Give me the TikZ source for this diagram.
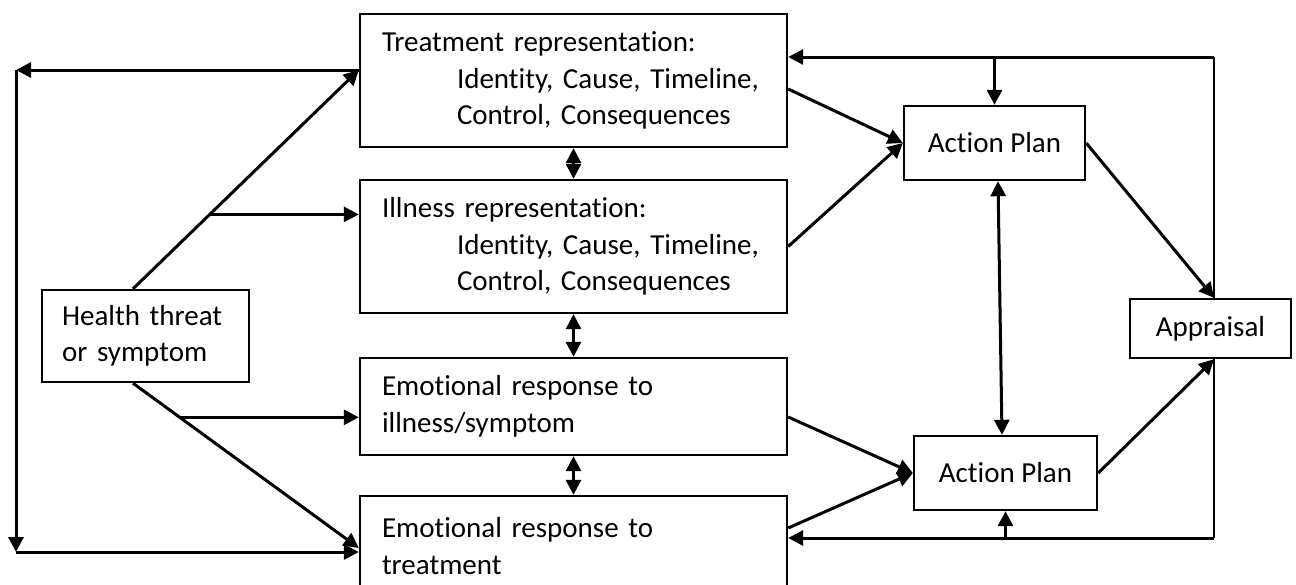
\documentclass[tikz,border=0pt]{standalone}
\usepackage{fontspec}
\setmainfont{Carlito}[Ligatures=NoCommon]
\usetikzlibrary{arrows.meta,calc}

\begin{document}
\begin{tikzpicture}[x=0.5pt, y=-0.5pt,
    every node/.style={font=\fontsize{14.5}{18.25}\selectfont},
    repbox/.style={draw, line width=1.2pt, inner xsep=11pt, inner ysep=0pt,
                   text width=191.5pt, align=left},
    smallbox/.style={draw, line width=1.2pt, inner sep=0pt, align=center},
    arr/.style={-{Triangle[length=7.5pt,width=7.5pt]}, line width=1.5pt},
    both/.style={{Triangle[length=7.5pt,width=7.5pt]}-{Triangle[length=7.5pt,width=7.5pt]},
                 line width=1.5pt},
    fback/.style={line width=1pt},
  ]
    \path[use as bounding box, clip] (0,0) rectangle (1296,584);

    % boxes
    \node[repbox, minimum height=66.5pt] (treat) at (573.5,80.5)
      {Treatment representation:\\\hspace*{37.5pt}Identity, Cause, Timeline,\\\hspace*{37.5pt}Control, Consequences};
    \node[repbox, minimum height=66.5pt] (ill) at (573.5,246.5)
      {Illness representation:\\\hspace*{37.5pt}Identity, Cause, Timeline,\\\hspace*{37.5pt}Control, Consequences};
    \node[repbox, minimum height=48.5pt] (emoill) at (573.5,406.5)
      {Emotional response to\\illness/symptom};
    \node[repbox, minimum height=50pt] (emotreat) at (573.5,546)
      {Emotional response to\\treatment};
    \node[draw, line width=1.2pt, inner xsep=10pt, inner ysep=0pt, text width=83.5pt,
          align=left, minimum height=46pt] (health) at (145.5,336)
      {Health threat\\or symptom};
    \node[smallbox, minimum width=90.5pt, minimum height=37pt] (ap1) at (994.5,143) {Action Plan};
    \node[smallbox, minimum width=91.5pt, minimum height=37pt] (ap2) at (1005.5,473) {Action Plan};
    \node[smallbox, minimum width=80.5pt, minimum height=29.5pt] (appr) at (1210.5,328.5) {Appraisal};

    % helper points
    \coordinate (ht) at ([xshift=-6.25pt]health.north);
    \coordinate (hs) at ([xshift=-6.25pt]health.south);
    \coordinate (tw) at ([yshift=5.25pt]treat.west);
    \coordinate (ew) at ([yshift=-1pt]emotreat.west);
    \coordinate (hb1) at ($(ht)!0.34!(tw)$);
    \coordinate (hb2) at ($(hs)!0.207!(ew)$);
    \coordinate (lt) at (16,70);
    \coordinate (lb) at (16,552);
    \coordinate (rt) at (1214,57);
    \coordinate (rb) at (1214,538);

    % health threat to representations
    \draw[arr] (ht) -- (tw);
    \draw[arr] (hb1) -- (hb1 -| ill.west);
    \draw[arr] (hs) -- (ew);
    \draw[arr] (hb2) -- (hb2 -| emoill.west);

    % left loop
    \draw[arr] (tw) -- (lt);
    \draw[arr] (lt) -- (lb);
    \draw[arr] (lb) -- (lb -| emotreat.west);

    % between the boxes
    \draw[both] (treat.south) -- (ill.north);
    \draw[both] (ill.south) -- (emoill.north);
    \draw[both] (emoill.south) -- (emotreat.north);

    % to the action plans
    \draw[arr] ([yshift=-4.25pt]treat.east) -- (ap1.west);
    \draw[arr] (ill.east) -- (ap1.west);
    \draw[arr] ([yshift=-5.25pt]emoill.east) -- (ap2.west);
    \draw[arr] ([yshift=9pt]emotreat.east) -- (ap2.west);
    \draw[both] ([xshift=1.75pt]ap1.south) -- ([xshift=-1.75pt]ap2.north);

    % appraisal and feedback
    \draw[arr] (ap1.east) -- (appr.north -| rt);
    \draw[arr] (ap2.east) -- (appr.south -| rt);
    \draw[fback] (appr.north -| rt) -- (rt);
    \draw[arr] (rt) -- (treat.east |- rt);
    \draw[arr] (ap1.north |- rt) -- (ap1.north);
    \draw[fback] (appr.south -| rt) -- (rb);
    \draw[arr] (rb) -- (emotreat.east |- rb);
    \draw[arr] (ap2.south |- rb) -- (ap2.south);
  \end{tikzpicture}
\end{document}
